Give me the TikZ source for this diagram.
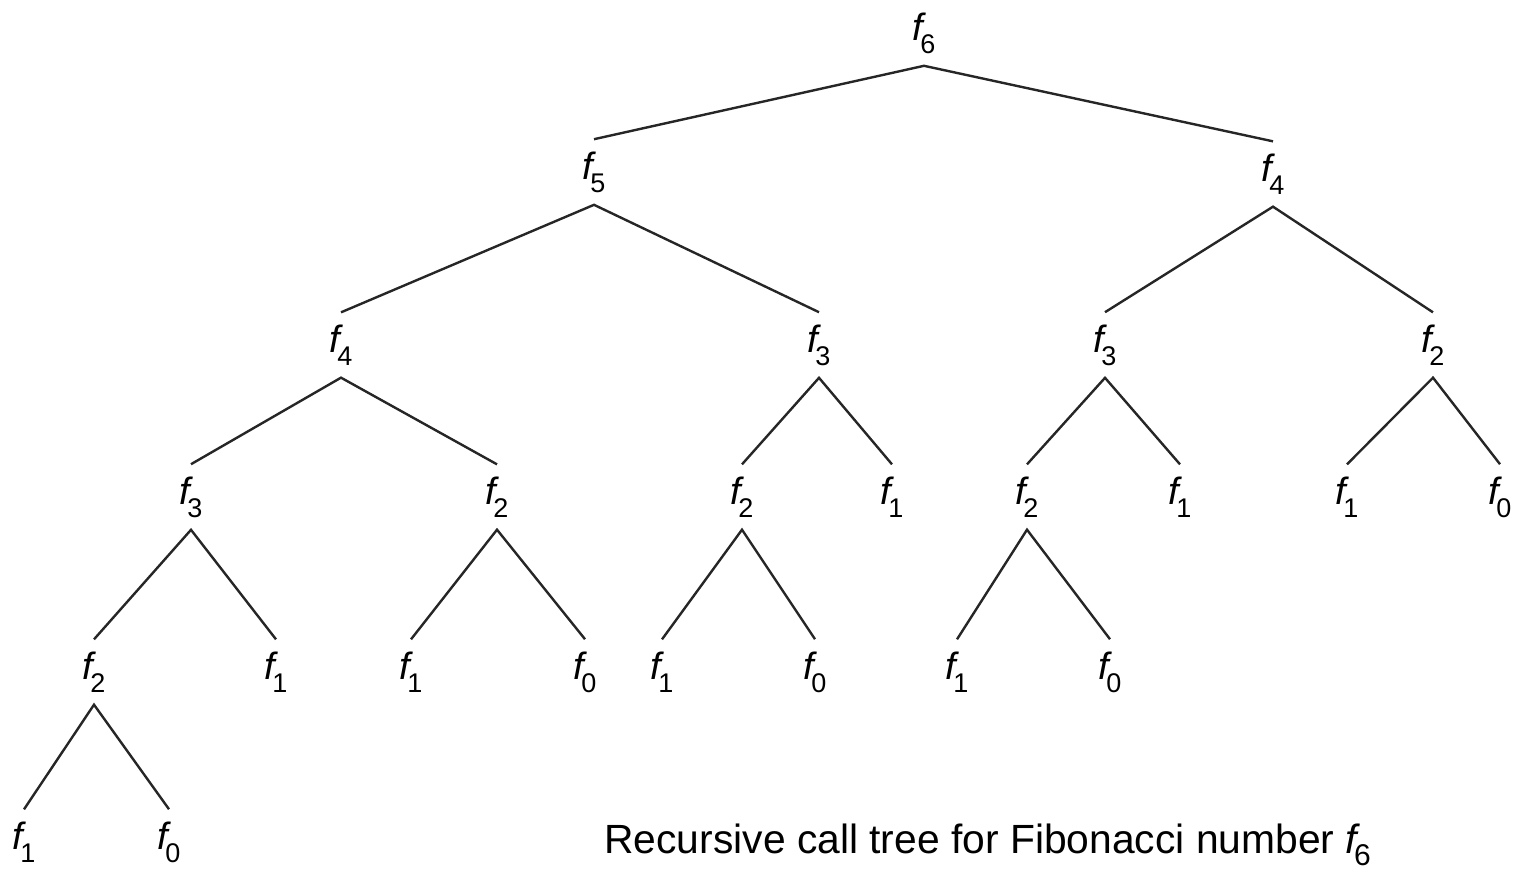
\documentclass[tikz,border=0pt]{standalone}
\usepackage{fontspec}
\setmainfont{Liberation Sans}
\newcommand{\fib}[1]{{\fontsize{19}{19}\selectfont\itshape f}\kern-1.5pt\raisebox{-6.5pt}{\fontsize{13.5}{13.5}\selectfont #1}}
\begin{document}
\begin{tikzpicture}[x=0.5pt,y=-0.5pt,
  fn/.style={inner xsep=1pt,inner ysep=6pt,font=\fontsize{19}{19}\selectfont},
  edge/.style={line width=1.2pt,black!85}]
\useasboundingbox (0,0) rectangle (1515,869);
% level 0
\node[fn] (a) at (924,33) {\fib{6}};
% level 1
\node[fn] (b1) at (594,172) {\fib{5}};
\node[fn] (b2) at (1273,174) {\fib{4}};
% level 2
\node[fn] (c1) at (341,345) {\fib{4}};
\node[fn] (c2) at (819,345) {\fib{3}};
\node[fn] (c3) at (1105,345) {\fib{3}};
\node[fn] (c4) at (1433,345) {\fib{2}};
% level 3
\node[fn] (d1) at (191,497) {\fib{3}};
\node[fn] (d2) at (497,497) {\fib{2}};
\node[fn] (d3) at (742,497) {\fib{2}};
\node[fn] (d4) at (892,497) {\fib{1}};
\node[fn] (d5) at (1027,497) {\fib{2}};
\node[fn] (d6) at (1180,497) {\fib{1}};
\node[fn] (d7) at (1347,497) {\fib{1}};
\node[fn] (d8) at (1500,497) {\fib{0}};
% level 4
\node[fn] (e1) at (94,672) {\fib{2}};
\node[fn] (e2) at (276,672) {\fib{1}};
\node[fn] (e3) at (411,672) {\fib{1}};
\node[fn] (e4) at (585,672) {\fib{0}};
\node[fn] (e5) at (662,672) {\fib{1}};
\node[fn] (e6) at (815,672) {\fib{0}};
\node[fn] (e7) at (957,672) {\fib{1}};
\node[fn] (e8) at (1110,672) {\fib{0}};
% level 5
\node[fn] (g1) at (24,842) {\fib{1}};
\node[fn] (g2) at (169,842) {\fib{0}};
% edges
\draw[edge] (b1.north) -- (a.south) -- (b2.north);
\draw[edge] (c1.north) -- (b1.south) -- (c2.north);
\draw[edge] (c3.north) -- (b2.south) -- (c4.north);
\draw[edge] (d1.north) -- (c1.south) -- (d2.north);
\draw[edge] (d3.north) -- (c2.south) -- (d4.north);
\draw[edge] (d5.north) -- (c3.south) -- (d6.north);
\draw[edge] (d7.north) -- (c4.south) -- (d8.north);
\draw[edge] (e1.north) -- (d1.south) -- (e2.north);
\draw[edge] (e3.north) -- (d2.south) -- (e4.north);
\draw[edge] (e5.north) -- (d3.south) -- (e6.north);
\draw[edge] (e7.north) -- (d5.south) -- (e8.north);
\draw[edge] (g1.north) -- (e1.south) -- (g2.north);
% caption
\node[anchor=base west,inner sep=0pt,font=\fontsize{20.4}{20.4}\selectfont] (cap) at (604,853)
  {Recursive call tree for Fibonacci number {\itshape f}\kern-1.5pt\raisebox{-6pt}{\fontsize{15}{15}\selectfont 6}};
\end{tikzpicture}
\end{document}
